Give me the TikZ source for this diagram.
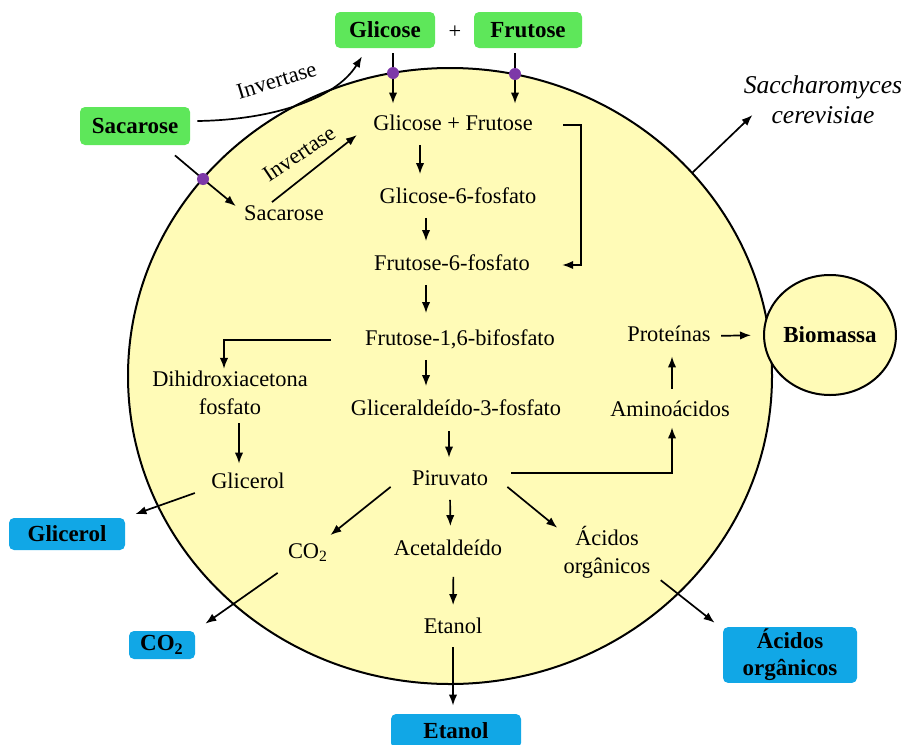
\documentclass[tikz,border=0pt]{standalone}
\usepackage{fontspec}
\setmainfont{Liberation Serif}
\usetikzlibrary{positioning,
                arrows.meta,
                shapes.geometric}
\definecolor{sugargreen}{HTML}{5EE75A}
\definecolor{prodblue}{HTML}{11A7E6}
\definecolor{cellyellow}{HTML}{FFFBB7}
\definecolor{carrierpurple}{HTML}{7D38A8}

\begin{document}
\begin{tikzpicture}[x=0.5pt,y=-0.5pt]

%--------------------------------------------------
% STYLES
%--------------------------------------------------

\tikzset{
metab/.style={
font=\fontsize{11.2}{13.8}\selectfont,
inner sep=1pt,
text height=8pt,
text depth=2.5pt
},
metabtwo/.style={
font=\fontsize{11.2}{13.8}\selectfont,
inner sep=1pt,
align=center
},
sugarbox/.style={
fill=sugargreen,
rounded corners=2.5pt,
font=\fontsize{11.5}{13.5}\selectfont\bfseries,
inner sep=1pt
},
prodbox/.style={
fill=prodblue,
rounded corners=2.5pt,
font=\fontsize{11.5}{13.5}\selectfont\bfseries,
inner sep=1pt,
align=center
},
carrier/.style={
circle,
fill=carrierpurple,
inner sep=0pt,
minimum size=6pt
},
flow/.style={
-{Latex[length=5.5pt,width=4.2pt]},
line width=0.85pt
},
vflow/.style={
flow,
shorten <=3.5pt,
shorten >=5.5pt
}
}

\useasboundingbox (0,0) rectangle (904,744);

%--------------------------------------------------
% CELL
%--------------------------------------------------

\node[ellipse,draw,line width=1pt,fill=cellyellow,
minimum width=322pt,minimum height=308pt,inner sep=0pt]
(cell) at (450,376) {};

\node[ellipse,draw,line width=1pt,fill=cellyellow,
minimum width=65pt,minimum height=60pt,inner sep=0pt,
font=\fontsize{11.5}{13.5}\selectfont\bfseries]
(biomass) at (830,335) {Biomassa};

%--------------------------------------------------
% OUTSIDE
%--------------------------------------------------

\node[sugarbox,minimum width=50pt,minimum height=18pt]
(glcout) at (385,30) {Glicose};

\node[metab] (plus) at (455,33) {+};

\node[sugarbox,minimum width=54pt,minimum height=18pt]
(fruout) at (528,30) {Frutose};

\node[sugarbox,minimum width=55pt,minimum height=19pt]
(sacout) at (135,126) {Sacarose};

\node[font=\fontsize{12.8}{15}\selectfont\itshape,align=center,inner sep=1pt]
(yeast) at (823,100) {Saccharomyces\\cerevisiae};

\node[metab,rotate=17] (invout) at (277,82) {Invertase};

%--------------------------------------------------
% INSIDE
%--------------------------------------------------

\node[metab] (sacin) at (284,215) {Sacarose};
\node[metab,rotate=34] (invin) at (300,155) {Invertase};

\node[metab] (gf) at (453,125) {Glicose + Frutose};
\node[metab] (g6p) at (458,198) {Glicose-6-fosfato};
\node[metab] (f6p) at (452,265) {Frutose-6-fosfato};
\node[metab] (f16) at (460,340) {Frutose-1,6-bifosfato};
\node[metab] (gap) at (456,410) {Gliceraldeído-3-fosfato};
\node[metab] (pyr) at (450,480) {Piruvato};

\node[metabtwo] (dhap) at (230,393) {Dihidroxiacetona\\fosfato};
\node[metab] (glyin) at (248,483) {Glicerol};

\node[metab] (amino) at (670,411) {Aminoácidos};
\node[metab] (prot) at (669,336) {Proteínas};

\node[metab] (co2in) at (308,553) {CO\textsubscript{2}};
\node[metab] (acal) at (448,550) {Acetaldeído};
\node[metabtwo] (acin) at (607,552) {Ácidos\\orgânicos};
\node[metab] (etoh) at (453,628) {Etanol};

%--------------------------------------------------
% PRODUCTS
%--------------------------------------------------

\node[prodbox,minimum width=58pt,minimum height=16pt]
(glyout) at (67,534) {Glicerol};

\node[prodbox,minimum width=33pt,minimum height=14pt]
(co2out) at (162,645) {CO\textsubscript{2}};

\node[prodbox,minimum width=65pt,minimum height=17pt]
(etohout) at (456,731) {Etanol};

\node[prodbox,minimum width=67pt,minimum height=26.5pt]
(acout) at (790,655) {Ácidos\\orgânicos};

%--------------------------------------------------
% ARROWS
%--------------------------------------------------

\draw[flow] ([xshift=3.5pt,yshift=2.5pt]sacout.east)
.. controls (270,120) and (335,100) ..
([xshift=-11.5pt,yshift=-4pt]glcout.south);

\draw[flow] ([xshift=20pt,yshift=-5pt]sacout.south) -- (203,179)
-- ([xshift=-3pt,yshift=-2pt]sacin.north west);

\draw[flow] ([xshift=-6pt]sacin.north)
-- ([xshift=-7pt,yshift=-5pt]gf.west);

\draw[flow] ([xshift=4pt,yshift=-2.5pt]glcout.south)
-- ([xshift=-30pt,yshift=4.25pt]gf.north);

\draw[flow] ([xshift=-6.5pt,yshift=-2.5pt]fruout.south)
-- ([xshift=31pt,yshift=4.25pt]gf.north);

\draw[flow] ([xshift=14pt]gf.east) -- ++(18,0)
|- ([xshift=15pt]f6p.east);

\draw[vflow] ([xshift=-16.5pt]gf.south) -- ([xshift=-19pt]g6p.north);
\draw[vflow] ([xshift=-16pt]g6p.south) -- ([xshift=-13pt]f6p.north);
\draw[vflow,shorten >=7pt] ([xshift=-13pt]f6p.south) -- ([xshift=-17pt]f16.north);
\draw[vflow] ([xshift=-17pt]f16.south) -- ([xshift=-15pt]gap.north);
\draw[vflow,shorten <=4.25pt,shorten >=4.75pt]
([xshift=-3.5pt]gap.south) -- ([xshift=-0.5pt]pyr.north);
\draw[vflow] (pyr.south) -- ([xshift=1.25pt]acal.north);
\draw[vflow,shorten <=7pt,shorten >=5pt]
([xshift=2.75pt]acal.south) -- (etoh.north);
\draw[flow,shorten <=3.25pt,shorten >=4pt]
(etoh.south) -- ([xshift=-1.5pt]etohout.north);

\draw[flow] ([xshift=-15.75pt]f16.west) -| ([xshift=-3pt]dhap.north);
\draw[flow,shorten <=3pt,shorten >=3.25pt]
([xshift=4.5pt]dhap.south) -- ([xshift=-4.5pt]glyin.north);
\draw[flow] ([xshift=-7pt,yshift=-5pt]glyin.west)
-- ([xshift=5pt,yshift=1.75pt]glyout.north east);

\draw[flow] ([xshift=-9.5pt,yshift=3pt]pyr.south west)
-- ([yshift=2.5pt]co2in.north east);
\draw[flow] ([xshift=-4pt,yshift=-3.5pt]co2in.south west)
-- ([xshift=5pt,yshift=3.5pt]co2out.north east);

\draw[flow] ([xshift=8.5pt,yshift=3pt]pyr.south east)
-- ([xshift=-2pt,yshift=-2pt]acin.north west);
\draw[flow] ([xshift=4pt]acin.south east)
-- ([xshift=-4pt,yshift=2pt]acout.north west);

\draw[flow] ([xshift=10.5pt,yshift=3.5pt]pyr.east)
-| ([xshift=1pt,yshift=-1.75pt]amino.south);
\draw[flow,shorten <=4.75pt,shorten >=3.75pt]
([xshift=1pt]amino.north) -- ([xshift=1.5pt]prot.south);
\draw[flow,shorten <=4pt,shorten >=6pt] (prot.east) -- (biomass.west);

\draw[flow] (cell.40) -- ([xshift=5.5pt,yshift=-7.5pt]yeast.west);

%--------------------------------------------------
% CARRIERS
%--------------------------------------------------

\node[carrier] (tglc) at (393,73) {};
\node[carrier] (tfru) at (515,74) {};
\node[carrier] (tsac) at (203,179) {};

\end{tikzpicture}
\end{document}
